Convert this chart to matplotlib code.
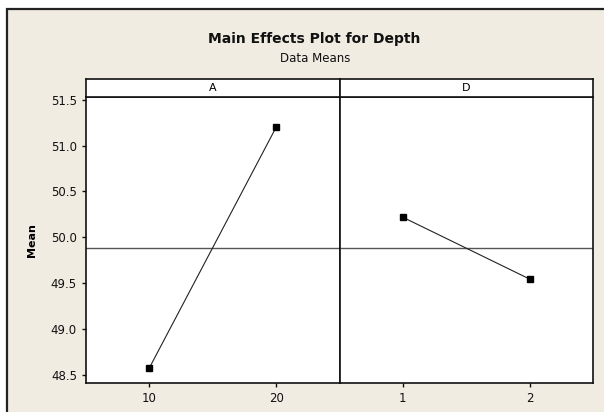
import numpy as np
import matplotlib
matplotlib.use('Agg')
import matplotlib.pyplot as plt
from matplotlib.patches import Rectangle

# data
factors = ['A', 'D']
levels = [['10', '20'], ['1', '2']]
means = [[48.575, 51.20], [50.218, 49.544]]
grand_mean = np.mean(means[0])

bg = '#f0ece2'
W, H = 604, 412
fig = plt.figure(figsize=(W / 100, H / 100), dpi=100)
fig.patch.set_facecolor('white')

# outer frame
frame = Rectangle((7.5 / W, -0.1), 1.2, 1 - 9.5 / H + 0.1,
                  transform=fig.transFigure, facecolor=bg,
                  edgecolor='#222222', lw=1.6, zorder=-10)
fig.patches.append(frame)

fig.text(314 / W, 1 - 39 / H, 'Main Effects Plot for Depth',
         ha='center', va='center', fontsize=10, fontweight='bold', color='#111111')
fig.text(315 / W, 1 - 59 / H, 'Data Means',
         ha='center', va='center', fontsize=8.5, color='#111111')

left, right = 86 / W, 593 / W
bottom, top = 1 - 383 / H, 1 - 97.3 / H
strip_h = 18 / H
pw = (right - left) / 2

for i, f in enumerate(factors):
    x0 = left + i * pw
    ax = fig.add_axes([x0, bottom, pw, top - bottom])
    ax.set_facecolor('white')
    xs = np.arange(len(levels[i]))
    ax.axhline(grand_mean, color='#555555', lw=1.0, zorder=1)
    ax.plot(xs, means[i], color='#222222', lw=0.8, marker='s', ms=4.2,
            mfc='black', mec='black', zorder=2)
    ax.set_xlim(-0.5, 1.5)
    ax.set_ylim(48.41, 51.527)
    ax.set_xticks(xs)
    ax.set_xticklabels(levels[i])
    ax.set_yticks(np.arange(48.5, 51.51, 0.5))
    ax.yaxis.set_major_formatter(matplotlib.ticker.FormatStrFormatter('%.1f'))
    ax.tick_params(direction='out', length=3, width=1, labelsize=8.5, colors='#111111')
    for s in ax.spines.values():
        s.set_linewidth(1.2)
        s.set_color('#111111')
    if i == 0:
        ax.set_ylabel('Mean', fontsize=8, fontweight='bold', labelpad=10)
    else:
        ax.tick_params(axis='y', left=False, labelleft=False)

    sax = fig.add_axes([x0, top, pw, strip_h])
    sax.set_facecolor('white')
    sax.set_xticks([])
    sax.set_yticks([])
    for s in sax.spines.values():
        s.set_linewidth(1.2)
        s.set_color('#111111')
    sax.text(0.5, 0.5, f, ha='center', va='center', fontsize=8,
             transform=sax.transAxes)

fig.savefig('out.png', dpi=100)
